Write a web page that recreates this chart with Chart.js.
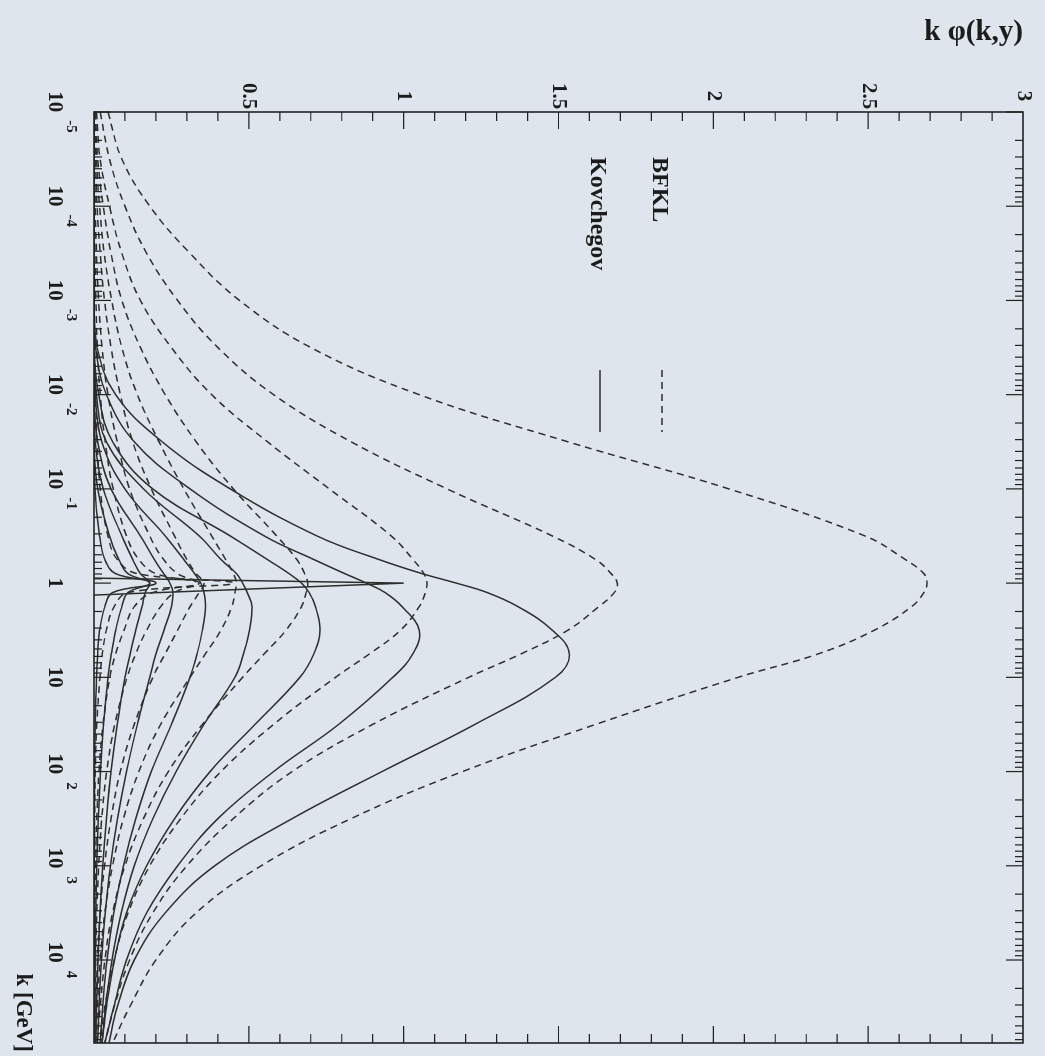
<!DOCTYPE html>
<html>
<head>
<meta charset="utf-8">
<title>k phi(k,y) – BFKL vs Kovchegov</title>
<script src="https://cdn.jsdelivr.net/npm/chart.js@4.4.1/dist/chart.umd.min.js"></script>
<style>
  html, body { margin: 0; padding: 0; background: #dee5ec; overflow: hidden; }
  /* the scan is turned a quarter turn clockwise */
  #wrap {
    position: absolute; left: 0; top: 0;
    width: 1056px; height: 1045px;
    transform-origin: 0 0;
    transform: translateX(1045px) rotate(90deg);
  }
</style>
</head>
<body>
<div id="wrap"><canvas id="plot" width="1056" height="1045"></canvas></div>
<script>
'use strict';

// k [GeV] sampling points (log spaced, denser round k = 1)
const kGrid = [1e-5, 3.16e-5, 1e-4, 3.16e-4, 1e-3, 3.16e-3, 0.01, 0.0316, 0.1, 0.316,
  0.562, 0.794, 1, 1.26, 1.78, 3.16, 5.62, 10, 31.6, 100, 316, 1000, 3160, 1e4, 3.16e4, 7.6e4];

// BFKL (dashed), k phi(k,y), largest rapidity first
const bfkl1 = [0.045, 0.09, 0.18, 0.31, 0.47, 0.70, 1.05, 1.53, 2.05, 2.49, 2.62, 2.68, 2.69, 2.68, 2.64, 2.52, 2.34, 2.08, 1.62, 1.19, 0.83, 0.54, 0.33, 0.20, 0.115, 0.06];
const bfkl2 = [0.02, 0.05, 0.10, 0.17, 0.27, 0.40, 0.58, 0.83, 1.14, 1.48, 1.62, 1.67, 1.69, 1.68, 1.63, 1.53, 1.38, 1.21, 0.90, 0.64, 0.45, 0.30, 0.19, 0.115, 0.065, 0.035];
const bfkl3 = [0.008, 0.02, 0.05, 0.09, 0.15, 0.25, 0.38, 0.56, 0.76, 0.96, 1.03, 1.065, 1.075, 1.07, 1.05, 0.99, 0.89, 0.78, 0.58, 0.41, 0.28, 0.18, 0.11, 0.065, 0.035, 0.02];
const bfkl4 = [0.005, 0.012, 0.03, 0.055, 0.09, 0.15, 0.23, 0.33, 0.45, 0.59, 0.655, 0.68, 0.69, 0.685, 0.67, 0.62, 0.55, 0.48, 0.35, 0.24, 0.16, 0.10, 0.06, 0.035, 0.02, 0.01];
const bfkl5 = [0.003, 0.008, 0.018, 0.033, 0.057, 0.09, 0.14, 0.21, 0.29, 0.38, 0.425, 0.45, 0.46, 0.455, 0.445, 0.41, 0.36, 0.31, 0.215, 0.145, 0.095, 0.06, 0.035, 0.02, 0.011, 0.006];
const bfkl6 = [0.002, 0.005, 0.01, 0.02, 0.034, 0.055, 0.085, 0.125, 0.185, 0.26, 0.30, 0.33, 0.355, 0.34, 0.31, 0.27, 0.23, 0.19, 0.13, 0.085, 0.055, 0.034, 0.02, 0.011, 0.006, 0.003];
const bfkl7 = [0, 0.002, 0.004, 0.008, 0.015, 0.026, 0.045, 0.075, 0.115, 0.18, 0.225, 0.27, 0.33, 0.26, 0.215, 0.17, 0.135, 0.107, 0.067, 0.041, 0.025, 0.015, 0.009, 0.005, 0.003, 0.002];
const bfkl8 = [0, 0, 0.001, 0.003, 0.006, 0.011, 0.02, 0.036, 0.062, 0.105, 0.145, 0.20, 0.34, 0.19, 0.13, 0.097, 0.07, 0.051, 0.029, 0.016, 0.009, 0.005, 0.003, 0.001, 0, 0];
const bfkl9 = [0, 0, 0, 0, 0, 0.002, 0.005, 0.01, 0.02, 0.045, 0.075, 0.14, 0.45, 0.11, 0.065, 0.04, 0.027, 0.019, 0.009, 0.004, 0.002, 0.001, 0, 0, 0, 0];

// Kovchegov (solid), same rapidities
const kov1 = [0, 0, 0, 0, 0, 0.01, 0.07, 0.22, 0.44, 0.72, 0.92, 1.06, 1.17, 1.27, 1.37, 1.48, 1.535, 1.49, 1.23, 0.93, 0.64, 0.39, 0.23, 0.13, 0.075, 0.048];
const kov2 = [0, 0, 0, 0, 0, 0.005, 0.04, 0.13, 0.31, 0.55, 0.71, 0.81, 0.88, 0.94, 0.995, 1.05, 1.03, 0.965, 0.79, 0.58, 0.40, 0.27, 0.17, 0.105, 0.064, 0.035];
const kov3 = [0, 0, 0, 0, 0, 0, 0.015, 0.06, 0.19, 0.44, 0.56, 0.63, 0.67, 0.695, 0.715, 0.73, 0.71, 0.665, 0.52, 0.375, 0.26, 0.17, 0.105, 0.066, 0.04, 0.026];
const kov4 = [0, 0, 0, 0, 0, 0, 0.008, 0.04, 0.16, 0.34, 0.41, 0.46, 0.48, 0.495, 0.51, 0.502, 0.483, 0.455, 0.355, 0.265, 0.19, 0.13, 0.088, 0.058, 0.037, 0.026];
const kov5 = [0, 0, 0, 0, 0, 0, 0.004, 0.025, 0.10, 0.23, 0.29, 0.325, 0.345, 0.355, 0.36, 0.35, 0.333, 0.31, 0.25, 0.185, 0.135, 0.095, 0.064, 0.042, 0.028, 0.02];
const kov6 = [0, 0, 0, 0, 0, 0, 0, 0.012, 0.055, 0.15, 0.195, 0.225, 0.245, 0.255, 0.25, 0.226, 0.20, 0.18, 0.14, 0.105, 0.076, 0.053, 0.036, 0.024, 0.016, 0.011];
const kov7 = [0, 0, 0, 0, 0, 0, 0, 0.004, 0.03, 0.09, 0.125, 0.15, 0.18, 0.165, 0.155, 0.135, 0.117, 0.10, 0.075, 0.055, 0.04, 0.028, 0.019, 0.013, 0.008, 0.006];
const kov8 = [0, 0, 0, 0, 0, 0, 0, 0, 0.012, 0.05, 0.08, 0.11, 0.18, 0.11, 0.09, 0.07, 0.056, 0.045, 0.031, 0.021, 0.014, 0.009, 0.006, 0.004, 0.003, 0.002];
const kov9 = [0, 0, 0, 0, 0, 0, 0, 0, 0.003, 0.018, 0.035, 0.07, 0.20, 0.06, 0.035, 0.018, 0.012, 0.008, 0.004, 0.002, 0.001, 0, 0, 0, 0, 0];

// initial condition (y = 0): narrow peak at k = 1
const spikeK = [0.885, 1, 1.34];
const spikeV = [0, 1, 0];

const valueTicks = [0.5, 1, 1.5, 2, 2.5, 3];
const decadeExps = [-5, -4, -3, -2, -1, 0, 1, 2, 3, 4];

const INK = '#2e2e2e';
const SERIF = '"Liberation Serif", "DejaVu Serif", serif';

function pts(ks, vs) {
  return ks.map((k, i) => ({ x: k, y: vs[i] }));
}

const datasets = [];
[bfkl1, bfkl2, bfkl3, bfkl4, bfkl5, bfkl6, bfkl7, bfkl8, bfkl9].forEach((s, i) => {
  datasets.push({
    label: 'BFKL ' + (i + 1), data: pts(kGrid, s),
    borderColor: INK, borderWidth: 1.5, borderDash: [7, 5],
    tension: 0.4
  });
});
[kov1, kov2, kov3, kov4, kov5, kov6, kov7, kov8, kov9].forEach((s, i) => {
  datasets.push({
    label: 'Kovchegov ' + (i + 1), data: pts(kGrid, s),
    borderColor: INK, borderWidth: 1.5,
    tension: 0.4
  });
});
datasets.push({ label: 'initial', data: pts(spikeK, spikeV), borderColor: INK, borderWidth: 1.5, tension: 0 });

// frame, inward ticks, labels, titles and legend (ROOT-like look)
const framePlugin = {
  id: 'frame',
  afterDatasetsDraw(chart) {
    const { ctx, chartArea: a } = chart;
    const x = chart.scales.x, y = chart.scales.y;
    ctx.save();
    ctx.strokeStyle = '#222';
    ctx.lineWidth = 1.6;
    ctx.strokeRect(a.left, a.top, a.right - a.left, a.bottom - a.top);

    ctx.lineWidth = 1.2;
    ctx.beginPath();
    for (let i = 1; i < 30; i++) {
      const py = y.getPixelForValue(i / 10);
      const len = i % 5 === 0 ? 17 : 9;
      ctx.moveTo(a.left, py); ctx.lineTo(a.left + len, py);
      ctx.moveTo(a.right, py); ctx.lineTo(a.right - len, py);
    }
    for (let e = -5; e <= 4; e++) {
      for (let m = 1; m <= 9; m++) {
        const kv = m * Math.pow(10, e);
        if (kv < x.min || kv > x.max) continue;
        const px = x.getPixelForValue(kv);
        const len = m === 1 ? 17 : 8;
        ctx.moveTo(px, a.bottom); ctx.lineTo(px, a.bottom - len);
        ctx.moveTo(px, a.top); ctx.lineTo(px, a.top + len);
      }
    }
    ctx.stroke();

    ctx.fillStyle = '#1c1c1c';
    // value labels
    ctx.font = 'bold 21px ' + SERIF;
    ctx.textAlign = 'center';
    ctx.textBaseline = 'middle';
    valueTicks.forEach(v => ctx.fillText(String(v), 96, y.getPixelForValue(v)));

    // k labels: 10 with raised exponent
    ctx.textBaseline = 'alphabetic';
    decadeExps.forEach(e => {
      const px = x.getPixelForValue(Math.pow(10, e));
      if (e === 0 || e === 1) {
        ctx.font = 'bold 21px ' + SERIF;
        ctx.textAlign = 'center';
        ctx.fillText(e === 0 ? '1' : '10', px, 996);
        return;
      }
      ctx.font = 'bold 21px ' + SERIF;
      const wBase = ctx.measureText('10').width;
      ctx.font = 'bold 15px ' + SERIF;
      const sup = e < 0 ? '-' + (-e) : String(e);
      const wSup = ctx.measureText(sup).width;
      const gap = 8;
      const x0 = px - (wBase + gap + wSup) / 2;
      ctx.textAlign = 'left';
      ctx.font = 'bold 21px ' + SERIF;
      ctx.fillText('10', x0, 996);
      ctx.font = 'bold 15px ' + SERIF;
      ctx.fillText(sup, x0 + wBase + gap, 978);
    });

    // axis titles
    ctx.font = 'bold 23px ' + SERIF;
    ctx.textAlign = 'right';
    ctx.fillText('k [GeV]', 1052, 1028);
    ctx.save();
    ctx.translate(40, 22);
    ctx.rotate(-Math.PI / 2);
    ctx.font = 'bold 29px ' + SERIF;
    ctx.textAlign = 'right';
    ctx.fillText('k \u03C6(k,y)', 0, 0);
    ctx.restore();

    // legend
    ctx.font = 'bold 24px ' + SERIF;
    ctx.textAlign = 'left';
    ctx.textBaseline = 'middle';
    ctx.fillText('BFKL', 157, 386);
    ctx.fillText('Kovchegov', 157, 448);
    ctx.strokeStyle = INK;
    ctx.lineWidth = 1.5;
    ctx.setLineDash([7, 5]);
    ctx.beginPath(); ctx.moveTo(370, 383); ctx.lineTo(432, 383); ctx.stroke();
    ctx.setLineDash([]);
    ctx.beginPath(); ctx.moveTo(370, 445); ctx.lineTo(432, 445); ctx.stroke();
    ctx.restore();
  }
};

new Chart(document.getElementById('plot'), {
  type: 'line',
  data: { datasets },
  options: {
    responsive: false,
    animation: false,
    events: [],
    layout: { padding: { left: 112, right: 13, top: 22, bottom: 94 } },
    elements: { point: { radius: 0 } },
    scales: {
      x: { type: 'logarithmic', min: 1e-5, max: 7.6e4, display: false },
      y: { type: 'linear', min: 0, max: 3, display: false }
    },
    plugins: { legend: { display: false }, tooltip: { enabled: false } }
  },
  plugins: [framePlugin]
});
</script>
</body>
</html>
